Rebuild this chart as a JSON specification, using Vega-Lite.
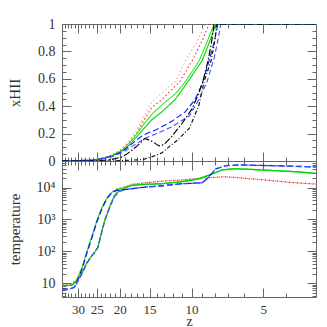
{
  "$schema": "https://vega.github.io/schema/vega-lite/v6.json",
  "padding": {"left": 6, "top": 16, "right": 13, "bottom": 0},
  "spacing": 0,
  "bounds": "flush",
  "config": {
    "font": "Liberation Serif",
    "view": {"stroke": "#666", "strokeWidth": 1},
    "axis": {"domain": false, "grid": false, "tickColor": "#666", "labelFont": "Liberation Serif", "labelFontSize": 14, "labelColor": "#333", "titleFont": "Liberation Serif", "titleFontSize": 15, "titleFontWeight": "normal", "titleColor": "#333", "labelFlush": false, "labelOverlap": false, "labelBound": false}
  },
  "datasets": {
    "xh": [
      {"s":"r1","z":35,"v":0},{"s":"r1","z":30,"v":0.003},{"s":"r1","z":26.2,"v":0.008},{"s":"r1","z":23.8,"v":0.02},{"s":"r1","z":21.6,"v":0.045},{"s":"r1","z":19.6,"v":0.09},{"s":"r1","z":18.3,"v":0.15},{"s":"r1","z":16.9,"v":0.23},{"s":"r1","z":15.7,"v":0.34},{"s":"r1","z":14.7,"v":0.43},{"s":"r1","z":13.3,"v":0.5},{"s":"r1","z":11.7,"v":0.58},{"s":"r1","z":10.6,"v":0.73},{"s":"r1","z":9.5,"v":0.87},{"s":"r1","z":8.77,"v":1.0},{"s":"r1","z":3,"v":1.0},
      {"s":"r2","z":35,"v":0},{"s":"r2","z":30,"v":0.003},{"s":"r2","z":26.2,"v":0.007},{"s":"r2","z":23.8,"v":0.018},{"s":"r2","z":21.6,"v":0.042},{"s":"r2","z":19.6,"v":0.082},{"s":"r2","z":18.3,"v":0.135},{"s":"r2","z":16.9,"v":0.21},{"s":"r2","z":15.7,"v":0.31},{"s":"r2","z":14.7,"v":0.39},{"s":"r2","z":13.3,"v":0.45},{"s":"r2","z":11.2,"v":0.58},{"s":"r2","z":9.95,"v":0.73},{"s":"r2","z":9.0,"v":0.88},{"s":"r2","z":8.44,"v":1.0},{"s":"r2","z":3,"v":1.0},
      {"s":"g1","z":35,"v":0},{"s":"g1","z":30,"v":0.003},{"s":"g1","z":26.2,"v":0.007},{"s":"g1","z":23.8,"v":0.018},{"s":"g1","z":21.6,"v":0.04},{"s":"g1","z":19.6,"v":0.078},{"s":"g1","z":18.3,"v":0.13},{"s":"g1","z":16.9,"v":0.2},{"s":"g1","z":15.7,"v":0.28},{"s":"g1","z":14.7,"v":0.34},{"s":"g1","z":13.3,"v":0.41},{"s":"g1","z":11.7,"v":0.49},{"s":"g1","z":10.6,"v":0.58},{"s":"g1","z":9.3,"v":0.73},{"s":"g1","z":8.6,"v":0.87},{"s":"g1","z":8.04,"v":1.0},{"s":"g1","z":3,"v":1.0},
      {"s":"g2","z":35,"v":0},{"s":"g2","z":30,"v":0.003},{"s":"g2","z":26.2,"v":0.006},{"s":"g2","z":23.8,"v":0.016},{"s":"g2","z":21.6,"v":0.037},{"s":"g2","z":19.6,"v":0.072},{"s":"g2","z":18.3,"v":0.115},{"s":"g2","z":16.9,"v":0.18},{"s":"g2","z":15.7,"v":0.245},{"s":"g2","z":14.7,"v":0.3},{"s":"g2","z":13.3,"v":0.36},{"s":"g2","z":11.7,"v":0.45},{"s":"g2","z":10.35,"v":0.58},{"s":"g2","z":9.04,"v":0.73},{"s":"g2","z":8.4,"v":0.87},{"s":"g2","z":7.9,"v":1.0},{"s":"g2","z":3,"v":1.0},
      {"s":"b1","z":35,"v":0},{"s":"b1","z":30,"v":0.002},{"s":"b1","z":26.2,"v":0.006},{"s":"b1","z":23.8,"v":0.016},{"s":"b1","z":21.6,"v":0.035},{"s":"b1","z":19.6,"v":0.068},{"s":"b1","z":17.8,"v":0.125},{"s":"b1","z":16.1,"v":0.185},{"s":"b1","z":15,"v":0.21},{"s":"b1","z":14,"v":0.23},{"s":"b1","z":12.1,"v":0.29},{"s":"b1","z":10.6,"v":0.36},{"s":"b1","z":9.66,"v":0.45},{"s":"b1","z":9.04,"v":0.56},{"s":"b1","z":8.44,"v":0.73},{"s":"b1","z":8.0,"v":0.88},{"s":"b1","z":7.75,"v":1.0},{"s":"b1","z":3,"v":1.0},
      {"s":"b2","z":35,"v":0},{"s":"b2","z":30,"v":0.002},{"s":"b2","z":26.2,"v":0.005},{"s":"b2","z":23.8,"v":0.014},{"s":"b2","z":21.6,"v":0.032},{"s":"b2","z":19.6,"v":0.06},{"s":"b2","z":17.8,"v":0.105},{"s":"b2","z":16.1,"v":0.155},{"s":"b2","z":15,"v":0.18},{"s":"b2","z":14,"v":0.2},{"s":"b2","z":12.1,"v":0.25},{"s":"b2","z":10.2,"v":0.33},{"s":"b2","z":9.3,"v":0.45},{"s":"b2","z":8.6,"v":0.58},{"s":"b2","z":8.04,"v":0.75},{"s":"b2","z":7.75,"v":0.88},{"s":"b2","z":7.53,"v":1.0},{"s":"b2","z":3,"v":1.0},
      {"s":"k1","z":35,"v":0},{"s":"k1","z":26.2,"v":0},{"s":"k1","z":23.8,"v":0.004},{"s":"k1","z":21.6,"v":0.012},{"s":"k1","z":19.6,"v":0.03},{"s":"k1","z":18.7,"v":0.05},{"s":"k1","z":16.9,"v":0.11},{"s":"k1","z":15.7,"v":0.165},{"s":"k1","z":14.7,"v":0.145},{"s":"k1","z":13.7,"v":0.11},{"s":"k1","z":13.05,"v":0.12},{"s":"k1","z":12.1,"v":0.18},{"s":"k1","z":11.0,"v":0.27},{"s":"k1","z":9.95,"v":0.38},{"s":"k1","z":9.3,"v":0.5},{"s":"k1","z":8.95,"v":0.58},{"s":"k1","z":8.53,"v":0.73},{"s":"k1","z":8.25,"v":0.86},{"s":"k1","z":8.04,"v":1.0},{"s":"k1","z":3,"v":1.0},
      {"s":"k2","z":35,"v":0},{"s":"k2","z":21.6,"v":0},{"s":"k2","z":19.6,"v":0.003},{"s":"k2","z":16.1,"v":0.01},{"s":"k2","z":14.7,"v":0.03},{"s":"k2","z":13.3,"v":0.06},{"s":"k2","z":12.7,"v":0.09},{"s":"k2","z":11.5,"v":0.15},{"s":"k2","z":10.2,"v":0.24},{"s":"k2","z":9.3,"v":0.41},{"s":"k2","z":8.86,"v":0.58},{"s":"k2","z":8.28,"v":0.73},{"s":"k2","z":8.0,"v":0.87},{"s":"k2","z":7.82,"v":1.0},{"s":"k2","z":3,"v":1.0}
    ],
    "temp": [
      {"s":"re","z":35,"t":9.5},{"s":"re","z":31.8,"t":9.5},{"s":"re","z":30.3,"t":14},{"s":"re","z":28.8,"t":32},{"s":"re","z":27.5,"t":100},{"s":"re","z":26.2,"t":300},{"s":"re","z":24.9,"t":1000},{"s":"re","z":23.8,"t":2400},{"s":"re","z":22.7,"t":4800},{"s":"re","z":21.6,"t":7500},{"s":"re","z":20.5,"t":9500},{"s":"re","z":19.6,"t":10500},{"s":"re","z":17.8,"t":13000},{"s":"re","z":15.5,"t":14500},{"s":"re","z":13.3,"t":16000},{"s":"re","z":11,"t":17500},{"s":"re","z":9.04,"t":20000},{"s":"re","z":8.2,"t":21000},{"s":"re","z":7.2,"t":22000},{"s":"re","z":6.1,"t":20000},{"s":"re","z":5.06,"t":17800},{"s":"re","z":3.7,"t":14300},{"s":"re","z":3,"t":13000},
      {"s":"rl","z":35,"t":9.5},{"s":"rl","z":31.8,"t":9.5},{"s":"rl","z":30.3,"t":12},{"s":"rl","z":28.8,"t":22},{"s":"rl","z":27.5,"t":45},{"s":"rl","z":26.2,"t":75},{"s":"rl","z":25.4,"t":100},{"s":"rl","z":24.7,"t":140},{"s":"rl","z":24.0,"t":350},{"s":"rl","z":23.1,"t":1000},{"s":"rl","z":21.9,"t":3000},{"s":"rl","z":21.0,"t":6000},{"s":"rl","z":20.0,"t":8500},{"s":"rl","z":19.2,"t":10000},{"s":"rl","z":17.8,"t":12500},{"s":"rl","z":15.5,"t":14500},{"s":"rl","z":13.3,"t":16000},{"s":"rl","z":11,"t":17500},{"s":"rl","z":9.04,"t":20000},{"s":"rl","z":8.2,"t":21000},{"s":"rl","z":7.2,"t":22000},{"s":"rl","z":6.1,"t":20000},{"s":"rl","z":5.06,"t":17800},{"s":"rl","z":3.7,"t":14300},{"s":"rl","z":3,"t":13000},
      {"s":"ge","z":35,"t":8.5},{"s":"ge","z":31.8,"t":8.5},{"s":"ge","z":30.3,"t":13},{"s":"ge","z":28.8,"t":31},{"s":"ge","z":27.5,"t":98},{"s":"ge","z":26.2,"t":295},{"s":"ge","z":24.9,"t":980},{"s":"ge","z":23.8,"t":2300},{"s":"ge","z":22.7,"t":4600},{"s":"ge","z":21.6,"t":7200},{"s":"ge","z":20.5,"t":9000},{"s":"ge","z":19.6,"t":9500},{"s":"ge","z":17.8,"t":12000},{"s":"ge","z":15.5,"t":12800},{"s":"ge","z":13.3,"t":13300},{"s":"ge","z":11,"t":15400},{"s":"ge","z":9.3,"t":19000},{"s":"ge","z":8.2,"t":27000},{"s":"ge","z":7.45,"t":36000},{"s":"ge","z":6.76,"t":39000},{"s":"ge","z":6.0,"t":38500},{"s":"ge","z":5.06,"t":36000},{"s":"ge","z":3.7,"t":32000},{"s":"ge","z":3,"t":28000},
      {"s":"gl","z":35,"t":8.5},{"s":"gl","z":31.8,"t":8.5},{"s":"gl","z":30.3,"t":11.5},{"s":"gl","z":28.8,"t":21},{"s":"gl","z":27.5,"t":44},{"s":"gl","z":26.2,"t":74},{"s":"gl","z":25.4,"t":98},{"s":"gl","z":24.7,"t":138},{"s":"gl","z":24.0,"t":340},{"s":"gl","z":23.1,"t":980},{"s":"gl","z":21.9,"t":2900},{"s":"gl","z":21.0,"t":5800},{"s":"gl","z":20.0,"t":8200},{"s":"gl","z":19.2,"t":9600},{"s":"gl","z":17.8,"t":11800},{"s":"gl","z":15.5,"t":12800},{"s":"gl","z":13.3,"t":13300},{"s":"gl","z":11,"t":15400},{"s":"gl","z":9.3,"t":19000},{"s":"gl","z":8.2,"t":27000},{"s":"gl","z":7.45,"t":36000},{"s":"gl","z":6.76,"t":39000},{"s":"gl","z":6.0,"t":38500},{"s":"gl","z":5.06,"t":36000},{"s":"gl","z":3.7,"t":32000},{"s":"gl","z":3,"t":28000},
      {"s":"be","z":35,"t":6.5},{"s":"be","z":32.5,"t":6.5},{"s":"be","z":31.0,"t":7.5},{"s":"be","z":30.3,"t":11},{"s":"be","z":28.8,"t":28},{"s":"be","z":27.5,"t":90},{"s":"be","z":26.2,"t":270},{"s":"be","z":24.9,"t":900},{"s":"be","z":23.8,"t":2200},{"s":"be","z":22.7,"t":4500},{"s":"be","z":21.6,"t":7000},{"s":"be","z":20.5,"t":8300},{"s":"be","z":19.6,"t":8500},{"s":"be","z":17.8,"t":9300},{"s":"be","z":15.5,"t":10500},{"s":"be","z":13.3,"t":11500},{"s":"be","z":11,"t":13300},{"s":"be","z":9.04,"t":14300},{"s":"be","z":8.6,"t":19000},{"s":"be","z":7.9,"t":39000},{"s":"be","z":7.2,"t":49000},{"s":"be","z":6.3,"t":52000},{"s":"be","z":4.5,"t":49000},{"s":"be","z":3,"t":45000},
      {"s":"bl","z":35,"t":6.5},{"s":"bl","z":32.5,"t":6.5},{"s":"bl","z":31.0,"t":7.3},{"s":"bl","z":30.3,"t":10},{"s":"bl","z":28.8,"t":20},{"s":"bl","z":27.5,"t":42},{"s":"bl","z":26.2,"t":72},{"s":"bl","z":25.4,"t":95},{"s":"bl","z":24.7,"t":132},{"s":"bl","z":24.0,"t":320},{"s":"bl","z":23.1,"t":940},{"s":"bl","z":21.9,"t":2800},{"s":"bl","z":21.0,"t":5500},{"s":"bl","z":20.0,"t":7600},{"s":"bl","z":19.2,"t":8500},{"s":"bl","z":17.8,"t":9300},{"s":"bl","z":15.5,"t":10500},{"s":"bl","z":13.3,"t":11500},{"s":"bl","z":11,"t":13300},{"s":"bl","z":9.04,"t":14300},{"s":"bl","z":8.6,"t":19000},{"s":"bl","z":7.9,"t":39000},{"s":"bl","z":7.2,"t":49000},{"s":"bl","z":6.3,"t":52000},{"s":"bl","z":4.5,"t":49000},{"s":"bl","z":3,"t":45000}
    ]
  },
  "vconcat": [
    {
      "width": 254,
      "height": 137,
      "data": {"name": "xh"},
      "layer": [
        {
          "mark": {"type": "line", "clip": true},
          "encoding": {
            "x": {"field": "z", "type": "quantitative", "scale": {"type": "log", "domain": [3, 35], "reverse": true, "nice": false},
              "axis": {"orient": "bottom", "values": [4,5,6,7,8,9,10,11,12,13,14,15,16,17,18,19,20,21,22,23,24,25,26,27,28,29,30,31,32,33,34], "labels": false, "title": null, "minExtent": 0, "maxExtent": 0,
                "tickSize": {"condition": {"test": "datum.value % 5 === 0", "value": -9}, "value": -4}}},
            "y": {"field": "v", "type": "quantitative", "scale": {"domain": [0, 1], "nice": false},
              "axis": {"orient": "left", "title": "xHII", "minExtent": 28, "maxExtent": 28, "titlePadding": 12, "labelPadding": 16, "values": [0,0.05,0.1,0.15,0.2,0.25,0.3,0.35,0.4,0.45,0.5,0.55,0.6,0.65,0.7,0.75,0.8,0.85,0.9,0.95,1],
                "labelExpr": "indexof([0,0.2,0.4,0.6,0.8,1], datum.value) >= 0 ? format(datum.value, '~g') : ''",
                "tickSize": {"condition": {"test": "indexof([0,0.2,0.4,0.6,0.8,1], datum.value) >= 0", "value": -9}, "value": -4}}},
            "color": {"field": "s", "type": "nominal", "legend": null, "scale": {"domain": ["r1","r2","g1","g2","b1","b2","k1","k2"], "range": ["#ff8a8a","#ff1a1a","#22ee22","#00d000","#1010ff","#4050ff","#000000","#111111"]}},
            "strokeDash": {"field": "s", "type": "nominal", "legend": null, "scale": {"domain": ["r1","r2","g1","g2","b1","b2","k1","k2"], "range": [[1.5,2.5],[1.5,2.5],[1,0],[1,0],[6,3],[5,3],[7,2,1.5,2],[4,2,1,2]]}},
            "strokeWidth": {"field": "s", "type": "nominal", "legend": null, "scale": {"domain": ["r1","r2","g1","g2","b1","b2","k1","k2"], "range": [1,1.3,1.3,1.4,1.7,1.3,1,1.3]}}
          }
        },
        {
          "mark": {"type": "point", "opacity": 0},
          "encoding": {
            "x": {"field": "z", "type": "quantitative",
              "axis": {"orient": "top", "values": [4,5,6,7,8,9,10,11,12,13,14,15,16,17,18,19,20,21,22,23,24,25,26,27,28,29,30,31,32,33,34], "labels": false, "title": null, "minExtent": 0, "maxExtent": 0,
                "tickSize": {"condition": {"test": "datum.value % 5 === 0", "value": -9}, "value": -4}}},
            "y": {"field": "v", "type": "quantitative",
              "axis": {"orient": "right", "title": null, "labels": false, "minExtent": 0, "maxExtent": 0, "values": [0,0.05,0.1,0.15,0.2,0.25,0.3,0.35,0.4,0.45,0.5,0.55,0.6,0.65,0.7,0.75,0.8,0.85,0.9,0.95,1],
                "tickSize": {"condition": {"test": "indexof([0,0.2,0.4,0.6,0.8,1], datum.value) >= 0", "value": -9}, "value": -4}}}
          }
        }
      ],
      "resolve": {"axis": {"x": "independent", "y": "independent"}}
    },
    {
      "width": 254,
      "height": 136,
      "data": {"name": "temp"},
      "layer": [
        {
          "mark": {"type": "line", "clip": true},
          "encoding": {
            "x": {"field": "z", "type": "quantitative", "scale": {"type": "log", "domain": [3, 35], "reverse": true, "nice": false},
              "axis": {"orient": "bottom", "title": "z", "values": [4,5,6,7,8,9,10,11,12,13,14,15,16,17,18,19,20,21,22,23,24,25,26,27,28,29,30,31,32,33,34],
                "labelExpr": "indexof([5,10,15,20,25,30], datum.value) >= 0 ? format(datum.value, 'd') : ''", "labelPadding": 15, "labelFontSize": 13,
                "titleFontSize": 14, "titleBaseline": "alphabetic", "titleY": 28,
                "tickSize": {"condition": {"test": "datum.value % 5 === 0", "value": -9}, "value": -4}}},
            "y": {"field": "t", "type": "quantitative", "scale": {"type": "log", "domain": [3.65, 69000], "nice": false},
              "axis": {"orient": "left", "title": "temperature", "minExtent": 28, "maxExtent": 28, "titlePadding": 12, "labelPadding": 16, "values": [4,5,6,7,8,9,10,20,30,40,50,60,70,80,90,100,200,300,400,500,600,700,800,900,1000,2000,3000,4000,5000,6000,7000,8000,9000,10000,20000,30000,40000,50000,60000],
                "labelExpr": "datum.value == 10 ? '10' : datum.value == 100 ? '10²' : datum.value == 1000 ? '10³' : datum.value == 10000 ? '10⁴' : ''",
                "tickSize": {"condition": {"test": "indexof([10,100,1000,10000], datum.value) >= 0", "value": -9}, "value": -4}}},
            "color": {"field": "s", "type": "nominal", "legend": null, "scale": {"domain": ["re","rl","ge","gl","be","bl"], "range": ["#ff1a1a","#ff1a1a","#11e011","#11e011","#1010ff","#1010ff"]}},
            "strokeDash": {"field": "s", "type": "nominal", "legend": null, "scale": {"domain": ["re","rl","ge","gl","be","bl"], "range": [[1.5,2.5],[1.5,2.5],[1,0],[1,0],[6,3],[6,3]]}},
            "strokeWidth": {"field": "s", "type": "nominal", "legend": null, "scale": {"domain": ["re","rl","ge","gl","be","bl"], "range": [1.6,1.6,1.5,1.5,1.8,1.8]}}
          }
        },
        {
          "mark": {"type": "point", "opacity": 0},
          "encoding": {
            "x": {"field": "z", "type": "quantitative",
              "axis": {"orient": "top", "labels": false, "title": null, "minExtent": 0, "maxExtent": 0, "values": [4,5,6,7,8,9,10,11,12,13,14,15,16,17,18,19,20,21,22,23,24,25,26,27,28,29,30,31,32,33,34],
                "tickSize": {"condition": {"test": "datum.value % 5 === 0", "value": -9}, "value": -4}}},
            "y": {"field": "t", "type": "quantitative",
              "axis": {"orient": "right", "title": null, "labels": false, "minExtent": 0, "maxExtent": 0, "values": [4,5,6,7,8,9,10,20,30,40,50,60,70,80,90,100,200,300,400,500,600,700,800,900,1000,2000,3000,4000,5000,6000,7000,8000,9000,10000,20000,30000,40000,50000,60000],
                "tickSize": {"condition": {"test": "indexof([10,100,1000,10000], datum.value) >= 0", "value": -9}, "value": -4}}}
          }
        }
      ],
      "resolve": {"axis": {"x": "independent", "y": "independent"}}
    }
  ]
}
